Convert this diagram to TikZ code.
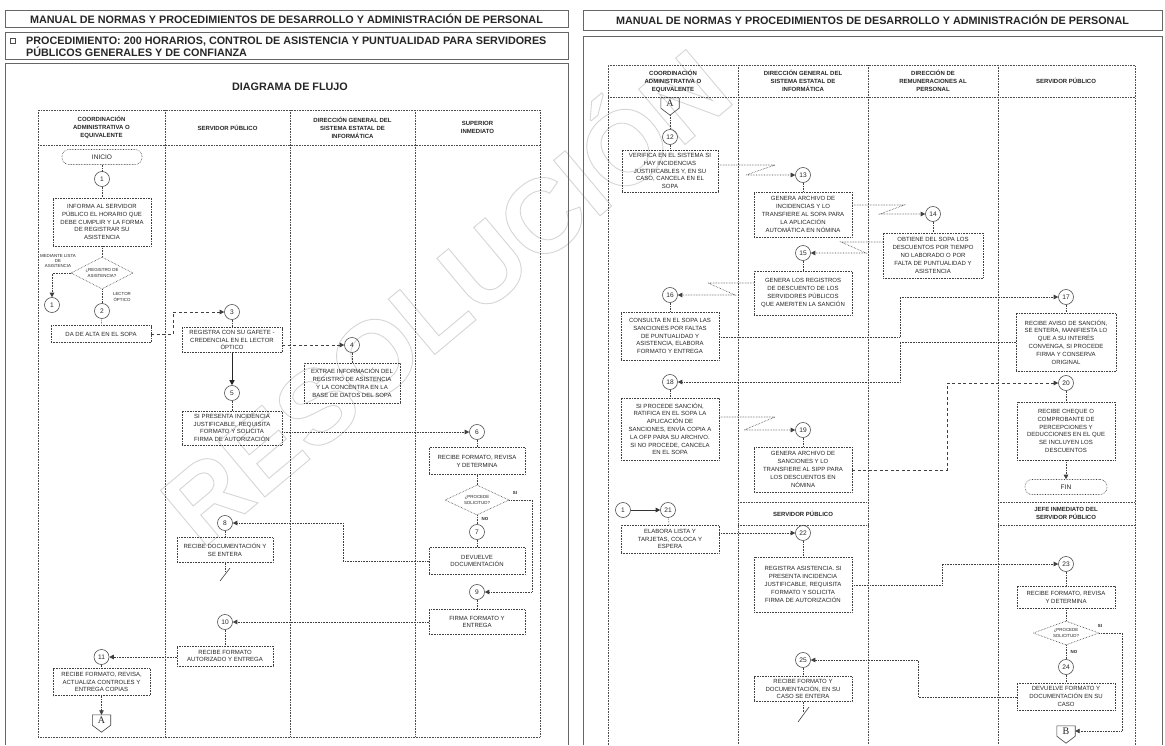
\documentclass[tikz,border=0pt]{standalone}
\usepackage{fontspec}
\setmainfont{Liberation Sans}
\newfontfamily\serifA{Liberation Serif}
\usetikzlibrary{shapes.geometric,arrows.meta,calc}
\newcommand\bxf{\fontsize{6}{7.8}\selectfont}
\newcommand\numf{\fontsize{6.6}{6.6}\selectfont}
\newcommand\colf{\fontsize{6}{8}\selectfont\bfseries}
\newcommand\tinyf{\fontsize{4.4}{5.2}\selectfont}
\newcommand\hdrf{\fontsize{10.8}{12}\selectfont\bfseries}
\newcommand\conf{\fontsize{10}{10}\selectfont\serifA}
\begin{document}
\begin{tikzpicture}[x=1pt,y=-1pt,
  every node/.style={text=black!85},
  hbox/.style={draw=black!60, line width=0.7pt, inner sep=0pt, font=\hdrf},
  frm/.style={draw=black!60, line width=0.6pt},
  tbl/.style={draw=black!70, densely dotted, line width=0.6pt},
  box/.style={rectangle, draw=black!75, densely dotted, line width=0.6pt, align=center, font=\bxf, inner sep=0pt},
  num/.style={circle, draw=black!75, line width=0.55pt, minimum size=15pt, inner sep=0pt, font=\numf},
  term/.style={rectangle, rounded corners=7pt, draw=black!75, densely dotted, line width=0.6pt, font=\numf, minimum height=15pt, minimum width=80pt, inner sep=0pt},
  dec/.style={diamond, draw=black!75, densely dotted, line width=0.6pt, inner sep=0pt},
  ln/.style={draw=black!75, densely dotted, line width=0.6pt},
  arr/.style={ln, -{Triangle[length=4.5pt,width=4.5pt]}},
  darr/.style={draw=black!75, dash pattern=on 3pt off 2.5pt, line width=0.6pt, -{Triangle[length=4.5pt,width=4.5pt]}},
  sarr/.style={draw=black!85, line width=1pt, -{Triangle[length=5pt,width=5pt]}},
  thinarr/.style={draw=black!80, line width=0.6pt, -{Triangle[length=4.5pt,width=4.5pt]}},
  colh/.style={align=center, font=\colf, inner sep=0pt},
  lab/.style={font=\tinyf, inner sep=0pt, align=center},
  conn/.style={inner sep=0pt, minimum width=18pt, minimum height=10pt, font=\conf},
  pent/.style={draw=black!75, line width=0.6pt},
]
\useasboundingbox (0,0) rectangle (1165,745);
\fill[white] (0,0) rectangle (1165,745);
% watermark (outlined letters)
\node[rotate=40, text=black!16, font=\fontsize{105}{105}\selectfont\bfseries] (wm) at (440,290) {\special{pdf:literal direct 1 Tr 0.9 w}RESOLUCIÓN\special{pdf:literal direct 0 Tr}};

% ================= LEFT PAGE =================
\node[hbox, minimum width=563pt, minimum height=17pt] (h1) at (286.5,19) {MANUAL DE NORMAS Y PROCEDIMIENTOS DE DESARROLLO Y ADMINISTRACIÓN DE PERSONAL};
\node[hbox, minimum width=563pt, minimum height=27pt] (h2) at (286.5,45.5) {};
\node[draw=black!70, line width=0.5pt, minimum size=5pt, inner sep=0pt] (chk) at (13,41) {};
\node[anchor=west, align=left, font=\hdrf, inner sep=0pt] (h2t) at (26,46.5) {PROCEDIMIENTO: 200 HORARIOS, CONTROL DE ASISTENCIA Y PUNTUALIDAD PARA SERVIDORES\\PÚBLICOS GENERALES Y DE CONFIANZA};
\draw[frm] (5,745) -- (5,63) -- (568,63) -- (568,745);
\node[font=\hdrf] (t1) at (290,87) {DIAGRAMA DE FLUJO};

% table
\draw[tbl] (38,110) rectangle (540,737);
\draw[tbl] (38,145) -- (540,145);
\foreach \x in {165,290,415} \draw[tbl] (\x,110) -- (\x,737);
\node[colh] (lh1) at (101.5,127.5) {COORDINACIÓN\\ADMINISTRATIVA O\\EQUIVALENTE};
\node[colh] (lh2) at (227.5,127.5) {SERVIDOR PÚBLICO};
\node[colh] (lh3) at (352.5,127.5) {DIRECCIÓN GENERAL DEL\\SISTEMA ESTATAL DE\\INFORMÁTICA};
\node[colh] (lh4) at (477.5,127.5) {SUPERIOR\\INMEDIATO};

% nodes
\node[term] (ini) at (102,157) {INICIO};
\node[num] (c1) at (102,179) {1};
\node[box, minimum width=98pt, minimum height=48pt] (b1) at (102,222) {INFORMA AL SERVIDOR\\PÚBLICO EL HORARIO QUE\\DEBE CUMPLIR Y LA FORMA\\DE REGISTRAR SU\\ASISTENCIA};
\node[dec, minimum width=62pt, minimum height=32pt] (d1) at (102,273) {};
\node[lab] (d1t) at (d1) {¿REGISTRO DE\\ASISTENCIA?};
\node[lab] (l1) at (58,261) {MEDIANTE LISTA\\DE\\ASISTENCIA};
\node[lab] (l2) at (122,297) {LECTOR\\ÓPTICO};
\node[num] (cc1) at (52,305) {1};
\node[num] (c2) at (102,311) {2};
\node[box, minimum width=100pt, minimum height=17pt] (b2) at (101,334) {DA DE ALTA EN EL SOPA};
\node[num] (c3) at (232,312) {3};
\node[box, minimum width=100pt, minimum height=25pt] (b3) at (232,340) {REGISTRA CON SU GAFETE -\\CREDENCIAL EN EL LECTOR\\ÓPTICO};
\node[num] (c4) at (352,345) {4};
\node[box, minimum width=96pt, minimum height=40pt] (b4) at (352,383) {EXTRAE INFORMACIÓN DEL\\REGISTRO DE ASISTENCIA\\Y LA CONCENTRA EN LA\\BASE DE DATOS DEL SOPA};
\node[num] (c5) at (232,393) {5};
\node[box, minimum width=100pt, minimum height=34pt] (b5) at (232,428) {SI PRESENTA INCIDENCIA\\JUSTIFICABLE, REQUISITA\\FORMATO Y SOLICITA\\FIRMA DE AUTORIZACIÓN};
\node[num] (c6) at (477,432) {6};
\node[box, minimum width=96pt, minimum height=27pt] (b6) at (477,461) {RECIBE FORMATO, REVISA\\Y DETERMINA};
\node[dec, minimum width=64pt, minimum height=30pt] (d6) at (477,500) {};
\node[lab] (d6t) at (d6) {¿PROCEDE\\SOLICITUD?};
\node[lab, font=\tinyf\bfseries] (si1) at (515,493) {SI};
\node[lab, font=\tinyf\bfseries] (no1) at (485,519) {NO};
\node[num] (c7) at (477,532) {7};
\node[box, minimum width=96pt, minimum height=27pt] (b7) at (477,561) {DEVUELVE\\DOCUMENTACIÓN};
\node[num] (c8) at (225,523) {8};
\node[box, minimum width=96pt, minimum height=25pt] (b8) at (225,550) {RECIBE DOCUMENTACIÓN Y\\SE ENTERA};
\node[num] (c9) at (477,592) {9};
\node[box, minimum width=96pt, minimum height=25pt] (b9) at (477,622) {FIRMA FORMATO Y\\ENTREGA};
\node[num] (c10) at (225,622) {10};
\node[box, minimum width=96pt, minimum height=20pt] (b10) at (225,656) {RECIBE FORMATO\\AUTORIZADO Y ENTREGA};
\node[num] (c11) at (101.5,657) {11};
\node[box, minimum width=97pt, minimum height=27pt] (b11) at (101.5,682) {RECIBE FORMATO, REVISA,\\ACTUALIZA CONTROLES Y\\ENTREGA COPIAS};
\node[conn] (A1) at (101.5,720) {A};
\draw[pent] (A1.north west) -- (A1.north east) -- (A1.south east) -- ($(A1.south)+(0,7)$) coordinate (A1tip) -- (A1.south west) -- cycle;

% connectors
\draw[ln] (ini) -- (c1);
\draw[ln] (c1) -- (b1);
\draw[ln] (b1) -- (d1);
\draw[ln] (d1) -- (c2);
\draw[ln] (c2) -- (b2);
\draw[arr] (d1.west) -| (cc1);
\draw[darr] (b2.east) -- (173,334) |- (c3);
\draw[ln] (c3) -- (b3);
\draw[darr] (b3.east |- c4) -- (c4);
\draw[ln] (c4) -- (b4);
\draw[sarr] (b3) -- (c5);
\draw[ln] (c5) -- (b5);
\draw[arr] (b5.east |- c6) -- (c6);
\draw[ln] (c6) -- (b6);
\draw[ln] (b6) -- (d6);
\draw[ln] (d6) -- (c7);
\draw[ln] (c7) -- (b7);
\draw[arr] (d6.east) -- (532,500) |- (c9);
\draw[arr] (b7.west) -- (343,561) |- (c8);
\draw[ln] (c8) -- (b8);
\draw[ln] (b8.south) -- ++(0,9) coordinate (e8);
\draw[draw=black!75, line width=0.6pt] (220,581) -- (230,568);
\draw[ln] (c9) -- (b9);
\draw[arr] (b9.west) -- (c10);
\draw[ln] (c10) -- (b10);
\draw[arr] (b10.west |- c11) -- (c11);
\draw[ln] (c11) -- (b11);
\draw[arr] (b11) -- (A1);

% ================= RIGHT PAGE =================
\node[hbox, minimum width=579pt, minimum height=20pt] (h4) at (872.5,20) {MANUAL DE NORMAS Y PROCEDIMIENTOS DE DESARROLLO Y ADMINISTRACIÓN DE PERSONAL};
\draw[frm] (583,745) -- (583,36) -- (1162,36) -- (1162,745);
\draw[tbl] (608,745) -- (608,65) -- (1135,65) -- (1135,745);
\draw[tbl] (608,97) -- (1135,97);
\foreach \x in {738,868,998} \draw[tbl] (\x,65) -- (\x,745);
\draw[tbl] (738,502) -- (868,502) (738,525) -- (868,525) (998,502) -- (1135,502) (998,525) -- (1135,525);
\node[colh] (rh1) at (673,81) {COORDINACIÓN\\ADMINISTRATIVA O\\EQUIVALENTE};
\node[colh] (rh2) at (803,81) {DIRECCIÓN GENERAL DEL\\SISTEMA ESTATAL DE\\INFORMÁTICA};
\node[colh] (rh3) at (933,81) {DIRECCIÓN DE\\REMUNERACIONES AL\\PERSONAL};
\node[colh] (rh4) at (1066,81) {SERVIDOR PÚBLICO};
\node[colh] (rh5) at (803,513.5) {SERVIDOR PÚBLICO};
\node[colh] (rh6) at (1066,513.5) {JEFE INMEDIATO DEL\\SERVIDOR PÚBLICO};

\node[conn] (A2) at (670,103) {A};
\draw[pent] (A2.north west) -- (A2.north east) -- (A2.south east) -- ($(A2.south)+(0,7)$) coordinate (A2tip) -- (A2.south west) -- cycle;
\node[num] (c12) at (670,137) {12};
\node[box, minimum width=96pt, minimum height=42pt] (b12) at (670,171) {VERIFICA EN EL SISTEMA SI\\HAY INCIDENCIAS\\JUSTIFICABLES Y, EN SU\\CASO, CANCELA EN EL\\SOPA};
\node[num] (c13) at (803,175) {13};
\node[box, minimum width=98pt, minimum height=45pt] (b13) at (803,214.5) {GENERA ARCHIVO DE\\INCIDENCIAS Y LO\\TRANSFIERE AL SOPA PARA\\LA APLICACIÓN\\AUTOMÁTICA EN NÓMINA};
\node[num] (c14) at (933,214) {14};
\node[box, minimum width=100pt, minimum height=45pt] (b14) at (933,255.5) {OBTIENE DEL SOPA LOS\\DESCUENTOS POR TIEMPO\\NO LABORADO O POR\\FALTA DE PUNTUALIDAD Y\\ASISTENCIA};
\node[num] (c15) at (803,253) {15};
\node[box, minimum width=98pt, minimum height=44pt] (b15) at (803,293) {GENERA LOS REGISTROS\\DE DESCUENTO DE LOS\\SERVIDORES PÚBLICOS\\QUE AMERITEN LA SANCIÓN};
\node[num] (c16) at (670,295) {16};
\node[box, minimum width=98pt, minimum height=48pt] (b16) at (670,336) {CONSULTA EN EL SOPA LAS\\SANCIONES POR FALTAS\\DE PUNTUALIDAD Y\\ASISTENCIA, ELABORA\\FORMATO Y ENTREGA};
\node[num] (c17) at (1066,297) {17};
\node[box, minimum width=100pt, minimum height=58pt] (b17) at (1066,342) {RECIBE AVISO DE SANCIÓN,\\SE ENTERA, MANIFIESTA LO\\QUE A SU INTERÉS\\CONVENGA, SI PROCEDE\\FIRMA Y CONSERVA\\ORIGINAL};
\node[num] (c18) at (670,382) {18};
\node[box, minimum width=98pt, minimum height=62pt] (b18) at (670,429) {SI PROCEDE SANCIÓN,\\RATIFICA EN EL SOPA LA\\APLICACIÓN DE\\SANCIONES, ENVÍA COPIA A\\LA OFP PARA SU ARCHIVO.\\SI NO PROCEDE, CANCELA\\EN EL SOPA};
\node[num] (c19) at (803,430) {19};
\node[box, minimum width=98pt, minimum height=45pt] (b19) at (803,469.5) {GENERA ARCHIVO DE\\SANCIONES Y LO\\TRANSFIERE AL SIPP PARA\\LOS DESCUENTOS EN\\NÓMINA};
\node[num] (c20) at (1066,383) {20};
\node[box, minimum width=98pt, minimum height=58pt] (b20) at (1066,431) {RECIBE CHEQUE O\\COMPROBANTE DE\\PERCEPCIONES Y\\DEDUCCIONES EN EL QUE\\SE INCLUYEN LOS\\DESCUENTOS};
\node[term, minimum width=82pt] (fin) at (1066,487) {FIN};
\node[num] (cc2) at (623,510) {1};
\node[num] (c21) at (668,510) {21};
\node[box, minimum width=98pt, minimum height=28pt] (b21) at (670,539) {ELABORA LISTA Y\\TARJETAS, COLOCA Y\\ESPERA};
\node[num] (c22) at (803,533) {22};
\node[box, minimum width=98pt, minimum height=55pt] (b22) at (803,584.5) {REGISTRA ASISTENCIA. SI\\PRESENTA INCIDENCIA\\JUSTIFICABLE, REQUISITA\\FORMATO Y SOLICITA\\FIRMA DE AUTORIZACIÓN};
\node[num] (c23) at (1066,564) {23};
\node[box, minimum width=98pt, minimum height=22pt] (b23) at (1066,597) {RECIBE FORMATO, REVISA\\Y DETERMINA};
\node[dec, minimum width=66pt, minimum height=24pt] (d23) at (1066,633) {};
\node[lab] (d23t) at (d23) {¿PROCEDE\\SOLICITUD?};
\node[lab, font=\tinyf\bfseries] (si2) at (1100,626) {SI};
\node[lab, font=\tinyf\bfseries] (no2) at (1074,652) {NO};
\node[num] (c24) at (1066,667) {24};
\node[box, minimum width=98pt, minimum height=27pt] (b24) at (1066,696.5) {DEVUELVE FORMATO Y\\DOCUMENTACIÓN EN SU\\CASO};
\node[num] (c25) at (803,660) {25};
\node[box, minimum width=98pt, minimum height=25pt] (b25) at (803,689) {RECIBE FORMATO Y\\DOCUMENTACIÓN, EN SU\\CASO SE ENTERA};
\node[conn] (B2) at (1066,731) {B};
\draw[pent] (B2.north west) -- (B2.north east) -- (B2.south east) -- ($(B2.south)+(0,7)$) coordinate (B2tip) -- (B2.south west) -- cycle;

% connectors right
\draw[ln] (A2tip) -- (c12);
\draw[ln] (c12) -- (b12);
\draw[arr] (b12.east |- 0,165) -- (775,165) -- (746,175) -- (c13);
\draw[ln] (c13) -- (b13);
\draw[arr] (b13.east |- 0,205) -- (904,205) -- (880,214) -- (c14);
\draw[ln] (c14) -- (b14);
\draw[arr] (b14.west |- 0,242) -- (841,242) -- (866,253) -- (c15);
\draw[ln] (c15) -- (b15);
\draw[arr] (b15.west |- 0,283) -- (708,283) -- (735,295) -- (c16);
\draw[ln] (c16) -- (b16);
\draw[arr] (b16.east |- 0,337) -| (900,297) -- (c17);
\draw[ln] (c17) -- (b17);
\draw[arr] (b17.west |- 0,342) -| (900,382) -- (c18);
\draw[ln] (c18) -- (b18);
\draw[arr] (b18.east |- 0,417) -- (775,417) -- (744,430) -- (c19);
\draw[ln] (c19) -- (b19);
\draw[darr] (b19.east |- 0,470) -| (947,383) -- (c20);
\draw[ln] (c20) -- (b20);
\draw[arr] (b20) -- (fin);
\draw[thinarr] (cc2) -- (c21);
\draw[ln] (c21) -- (b21);
\draw[arr] (b21.east |- 0,533) -- (c22);
\draw[ln] (c22) -- (b22);
\draw[arr] (b22.east |- 0,585) -| (942,564) -- (c23);
\draw[ln] (c23) -- (b23);
\draw[ln] (b23) -- (d23);
\draw[ln] (d23) -- (c24);
\draw[ln] (c24) -- (b24);
\draw[arr] (d23.east) -- (1122,633) |- (B2.east);
\draw[arr] (b24.west |- 0,697) -| (918,660) -- (c25);
\draw[ln] (c25) -- (b25);
\draw[ln] (b25.south) -- ++(0,10) coordinate (e25);
\draw[draw=black!75, line width=0.6pt] (798,722) -- (809,707);
\end{tikzpicture}
\end{document}
